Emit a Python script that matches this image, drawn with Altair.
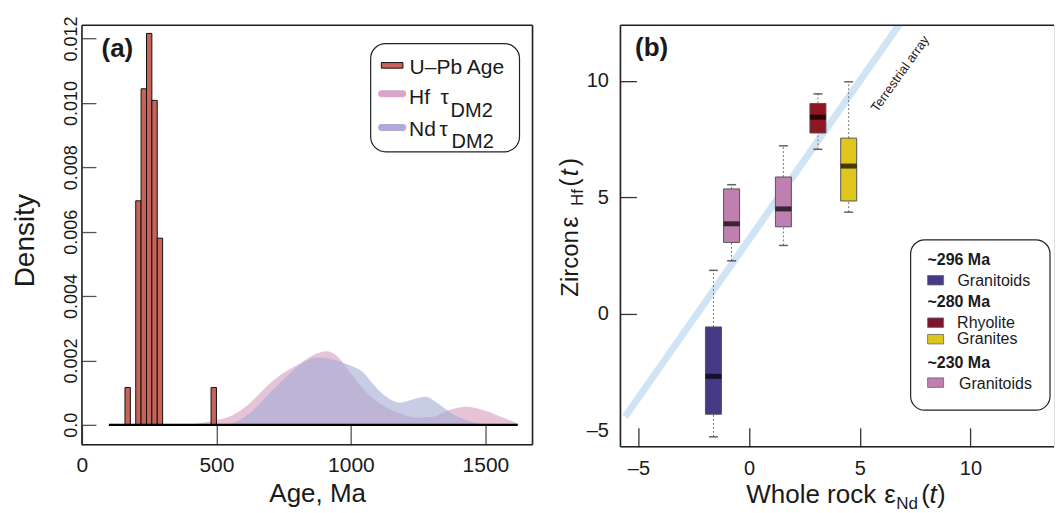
import altair as alt
import pandas as pd

FONT = "Liberation Sans"
INK = "#1a1a1a"
FRAME = "#222"

# ---------------- panel (a) data ----------------
hist_lo = [160, 200, 220, 240, 260, 280, 480]
hist_hi = [180, 220, 240, 260, 280, 300, 500]
hist_density = [0.00116, 0.00696, 0.01044, 0.01216, 0.01008, 0.00580, 0.00116]

hf_age = [350, 437, 499, 561, 623, 685, 747, 809, 871, 908, 945, 982, 1019, 1056,
          1118, 1180, 1242, 1304, 1366, 1428, 1490, 1552, 1626]
hf_density = [0.0, 0.00005, 0.00015, 0.00030, 0.00066, 0.00118, 0.00160, 0.00190,
              0.00221, 0.00229, 0.00216, 0.00180, 0.00139, 0.00102, 0.00061, 0.00037,
              0.00023, 0.00025, 0.00046, 0.00056, 0.00046, 0.00027, 0.00002]

nd_age = [545, 623, 685, 747, 809, 871, 933, 995, 1044, 1081, 1131, 1180, 1229,
          1279, 1316, 1366, 1428, 1478, 1505]
nd_density = [0.0, 0.00035, 0.00087, 0.00139, 0.00185, 0.00209, 0.00203, 0.00185,
              0.00164, 0.00128, 0.00087, 0.00069, 0.00079, 0.00087, 0.00071, 0.00040,
              0.00015, 0.00004, 0.0]

baseline_age = [100, 1620]
xa_ticks = [0, 500, 1000, 1500]
ya_ticks = [0, 0.002, 0.004, 0.006, 0.008, 0.010, 0.012]
xa_domain = [0, 1675]
ya_domain = [-0.00062, 0.012415]

# ---------------- panel (b) data ----------------
box_group = ["~296 Ma Granitoids", "~230 Ma Granitoids", "~230 Ma Granitoids",
             "~280 Ma Rhyolite", "~280 Ma Granites"]
box_nd = [-1.61, -0.79, 1.55, 3.11, 4.50]
box_min = [-5.29, 2.27, 2.93, 7.06, 4.36]
box_q1 = [-4.32, 3.06, 3.73, 7.76, 4.84]
box_med = [-2.69, 3.86, 4.50, 8.44, 6.34]
box_q3 = [-0.57, 5.36, 5.87, 9.03, 7.54]
box_max = [1.86, 5.54, 7.21, 9.44, 9.96]

ta_nd = [-5.6, 7.0]
ta_hf = [-4.43, 12.71]

xb_ticks = [-5, 0, 5, 10]
yb_ticks = [-5, 0, 5, 10]
xb_domain = [-5.587, 13.55]
yb_domain = [-5.72, 12.39]

group_domain = ["~296 Ma Granitoids", "~280 Ma Rhyolite", "~280 Ma Granites", "~230 Ma Granitoids"]
group_range = ["#463a87", "#8f1520", "#e0c61c", "#bf7fb1"]

WA, HA = 451, 420
WB, HB = 434, 422

one = pd.DataFrame({"k": [0]})


def label(text, x, y, size, align="left", baseline="alphabetic", angle=None,
          weight="normal", style="normal", color=INK):
    kw = dict(text=text, fontSize=size, align=align, baseline=baseline, font=FONT,
              fontWeight=weight, fontStyle=style, color=color)
    if angle is not None:
        kw["angle"] = angle
    return alt.Chart(one).mark_text(**kw).encode(x=alt.value(x), y=alt.value(y))


def rect(x, x2, y, y2, **kw):
    return alt.Chart(one).mark_rect(**kw).encode(
        x=alt.value(x), x2=alt.value(x2), y=alt.value(y), y2=alt.value(y2))


def hline(x, x2, y, **kw):
    return alt.Chart(one).mark_rule(**kw).encode(
        x=alt.value(x), x2=alt.value(x2), y=alt.value(y))


def vline(x, y, y2, **kw):
    return alt.Chart(one).mark_rule(**kw).encode(
        x=alt.value(x), y=alt.value(y), y2=alt.value(y2))


# ---------------- panel (a) ----------------
xa_scale = alt.Scale(domain=xa_domain, nice=False, zero=False)
ya_scale = alt.Scale(domain=ya_domain, nice=False, zero=False)
axis_xa = alt.Axis(values=xa_ticks, title=None, grid=False, domain=False, offset=-20,
                   tickSize=20, tickColor="#555", tickWidth=1.3, labelFontSize=21,
                   labelPadding=10, labelFlush=False, labelColor=INK, labelFont=FONT,
                   labelOverlap=False, format="d")
axis_ya = alt.Axis(values=ya_ticks, title=None, grid=False, domain=False, offset=-14,
                   tickSize=14, tickColor="#555", tickWidth=1.3, labelFontSize=18,
                   labelAngle=-90, labelAlign="center", labelBaseline="bottom",
                   labelPadding=1, labelFlush=False, labelColor=INK, labelFont=FONT,
                   labelOverlap=False,
                   labelExpr="datum.value == 0 ? '0.0' : format(datum.value, '.3f')")


def XA(f):
    return alt.X(f, type="quantitative", scale=xa_scale, axis=axis_xa)


def YA(f):
    return alt.Y(f, type="quantitative", scale=ya_scale, axis=axis_ya)


hf_df = pd.DataFrame({"age": hf_age, "d": hf_density})
nd_df = pd.DataFrame({"age": nd_age, "d": nd_density})
hist_df = pd.DataFrame({"lo": hist_lo, "hi": hist_hi, "d": hist_density})

hf_area = alt.Chart(hf_df).mark_area(color="#cd87af", opacity=0.5, interpolate="monotone").encode(
    x=XA("age"), y=YA("d"))
nd_area = alt.Chart(nd_df).mark_area(color="#a3acd5", opacity=0.6, interpolate="monotone").encode(
    x=XA("age"), y=YA("d"))
bars = alt.Chart(hist_df).mark_rect(color="#c8635a", stroke="#111", strokeWidth=1).encode(
    x=XA("lo"), x2="hi", y=YA("d"), y2=alt.datum(0))
base = alt.Chart(one).mark_rule(color="#000", strokeWidth=2.2).encode(
    x=alt.datum(baseline_age[0], type="quantitative", scale=xa_scale, axis=axis_xa),
    x2=alt.datum(baseline_age[1]),
    y=alt.datum(0, type="quantitative", scale=ya_scale, axis=axis_ya))

anchor = alt.Chart(one).mark_rule(opacity=0, strokeWidth=1).encode(
    x=alt.value(-73.5), x2=alt.value(-72.5), y=alt.value(-15.8))

frame_a = [
    hline(0, WA, 0, color=FRAME, strokeWidth=1.6),
    hline(0, WA, HA, color=FRAME, strokeWidth=1.6),
    vline(0, 0, HA, color=FRAME, strokeWidth=1.6),
    vline(WA, 0, HA, color=FRAME, strokeWidth=1.6),
]

legend_a = [
    rect(289, 438, 18.4, 126.7, fill="white", stroke="#222", strokeWidth=1.2, cornerRadius=15),
    rect(299.7, 321.3, 37.4, 43, fill="#c8635a", stroke="#111", strokeWidth=1),
    label("U–Pb Age", 328, 48.4, 21),
    hline(300, 321, 68.5, color="#d7a6c9", strokeWidth=7, strokeCap="round"),
    label("Hf", 327.5, 78.7, 21),
    label("τ", 359, 79.2, 21),
    label("DM2", 369, 91.7, 20),
    hline(300, 321, 102.4, color="#aeabdc", strokeWidth=7, strokeCap="round"),
    label("Nd", 327.5, 110.7, 21),
    label("τ", 358, 110.7, 21),
    label("DM2", 370, 122.7, 20),
]

panel_a = alt.layer(
    anchor, hf_area, nd_area, bars, base,
    label("(a)", 35.5, 24, 26, align="center", baseline="middle", weight="bold"),
    label("Density", -47.6, 215.7, 28, align="center", angle=270),
    label("Age, Ma", 236, 477.7, 26, align="center"),
    *legend_a,
    *frame_a,
).properties(width=WA, height=HA)

# ---------------- panel (b) ----------------
xb_scale = alt.Scale(domain=xb_domain, nice=False, zero=False)
yb_scale = alt.Scale(domain=yb_domain, nice=False, zero=False)
neg_expr = "datum.value < 0 ? '–' + abs(datum.value) : datum.label"
axis_xb = alt.Axis(values=xb_ticks, title=None, grid=False, domain=False, offset=-19,
                   tickSize=19, tickColor="#333", tickWidth=1.3, labelFontSize=20,
                   labelPadding=12, labelFlush=False, labelColor=INK, labelFont=FONT,
                   labelOverlap=False, labelExpr=neg_expr)
axis_yb = alt.Axis(values=yb_ticks, title=None, grid=False, domain=False, offset=-16,
                   tickSize=16, tickColor="#333", tickWidth=1.3, labelFontSize=20,
                   labelPadding=12, labelFlush=False, labelColor=INK, labelFont=FONT,
                   labelOverlap=False, labelExpr=neg_expr,
                   tickOpacity={"condition": {"test": "datum.value == -5", "value": 0}, "value": 1})


def XB(f):
    return alt.X(f, type="quantitative", scale=xb_scale, axis=axis_xb)


def YB(f):
    return alt.Y(f, type="quantitative", scale=yb_scale, axis=axis_yb)


box_df = pd.DataFrame({"g": box_group, "nd": box_nd, "lo": box_min, "q1": box_q1,
                       "med": box_med, "q3": box_q3, "hi": box_max})
ta_df = pd.DataFrame({"nd": ta_nd, "hf": ta_hf})

ta_line = alt.Chart(ta_df).mark_line(color="#d0e4f5", strokeWidth=7, clip=True).encode(
    x=XB("nd"), y=YB("hf"))
whisk_up = alt.Chart(box_df).mark_rule(color="#777", strokeDash=[2, 2], strokeWidth=1).encode(
    x=XB("nd"), y=YB("q3"), y2="hi")
whisk_dn = alt.Chart(box_df).mark_rule(color="#777", strokeDash=[2, 2], strokeWidth=1).encode(
    x=XB("nd"), y=YB("lo"), y2="q1")
boxes = alt.Chart(box_df).mark_bar(orient="vertical", size=16, stroke="#555", strokeWidth=1).encode(
    x=XB("nd"), y=YB("q1"), y2="q3",
    color=alt.Color("g:N", scale=alt.Scale(domain=group_domain, range=group_range), legend=None))
medians = alt.Chart(box_df).mark_tick(orient="horizontal", size=16, thickness=5, color="#000").encode(
    x=XB("nd"), y=YB("med"))
cap_hi = alt.Chart(box_df).mark_tick(orient="horizontal", size=9, thickness=1.5, color="#222").encode(
    x=XB("nd"), y=YB("hi"))
cap_lo = alt.Chart(box_df).mark_tick(orient="horizontal", size=9, thickness=1.5, color="#222").encode(
    x=XB("nd"), y=YB("lo"))

sw = dict(stroke="#666", strokeWidth=0.8)
legend_b = [
    rect(290.5, 430, 214.9, 385.3, fill="white", stroke="#222", strokeWidth=1.2, cornerRadius=14),
    label("~296 Ma", 307.3, 240.2, 16, weight="bold"),
    rect(307.5, 323.5, 250.5, 260, fill="#463a87", **sw),
    label("Granitoids", 337.3, 261.2, 16),
    label("~280 Ma", 307.3, 282.2, 16, weight="bold"),
    rect(307.5, 323.5, 293, 302.5, fill="#7b1530", **sw),
    label("Rhyolite", 337, 302.7, 16),
    rect(307.5, 323.5, 309.5, 319, fill="#dcc61c", **sw),
    label("Granites", 337, 318.7, 16),
    label("~230 Ma", 307.3, 342.9, 16, weight="bold"),
    rect(307.5, 323.5, 353, 362.5, fill="#bf7fb1", **sw),
    label("Granitoids", 339, 363.7, 16),
]

titles_b = [
    label("Whole rock", 126, 478.7, 26),
    label("ε", 264, 478.7, 26),
    label("Nd", 276, 484.2, 17),
    label("(", 301, 478.7, 26),
    label("t", 309.5, 478.7, 26, style="italic"),
    label(")", 317, 478.7, 26),
    label("Zircon", -42, 271.7, 24, angle=270),
    label("ε", -42, 202.7, 25, angle=270),
    label("Hf", -37, 181, 17, angle=270),
    label("(", -42, 161.7, 25, angle=270),
    label("t", -42, 151.2, 25, angle=270, style="italic"),
    label(")", -42, 141.2, 25, angle=270),
]

frame_b = [
    hline(0, WB, 0, color=FRAME, strokeWidth=1.6),
    hline(0, WB, HB, color=FRAME, strokeWidth=1.6),
    vline(0, 0, HB, color=FRAME, strokeWidth=1.6),
]

panel_b = alt.layer(
    ta_line, whisk_up, whisk_dn, boxes, medians, cap_hi, cap_lo,
    label("(b)", 31.3, 23.2, 26, align="center", baseline="middle", weight="bold"),
    label("Terrestrial array", 280, 48.7, 13, align="center", baseline="middle", angle=305.6),
    *legend_b,
    *titles_b,
    *frame_b,
).properties(width=WB, height=HB)

chart = alt.hconcat(panel_a, panel_b, spacing=88, bounds="flush", padding=0).configure_view(
    stroke=None
).configure(font=FONT)

chart.save("out.html", embed_options={"renderer": "svg", "actions": False})
